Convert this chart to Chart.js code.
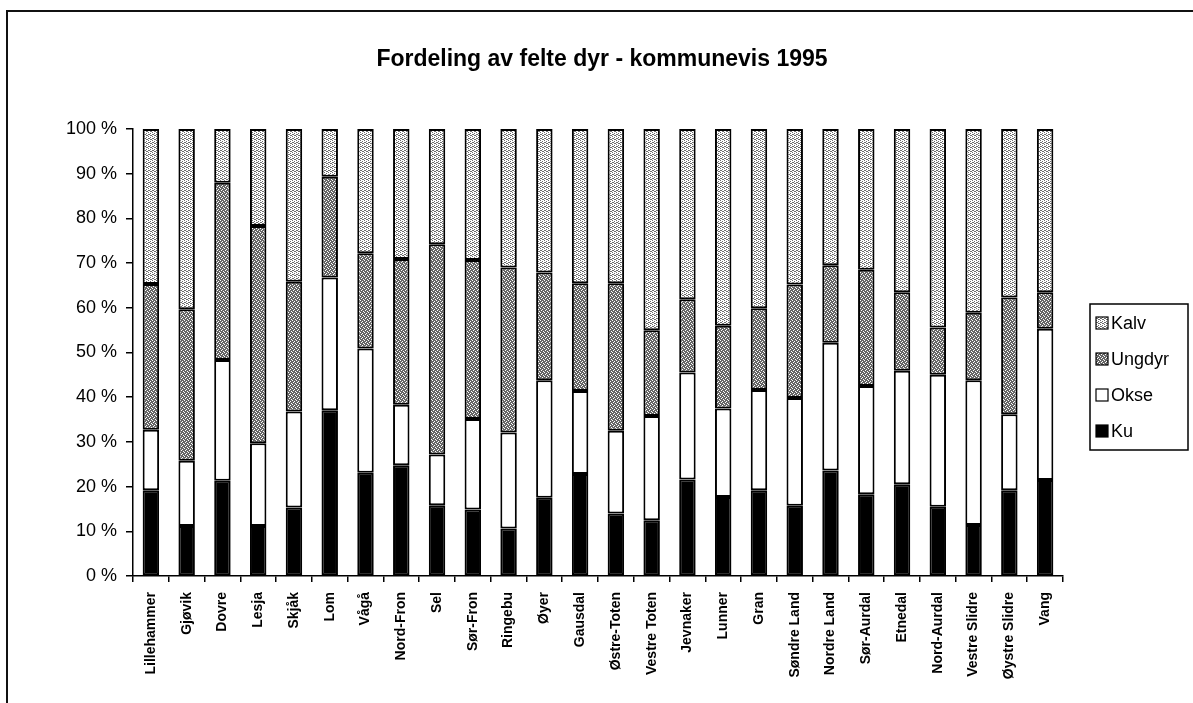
<!DOCTYPE html>
<html>
<head>
<meta charset="utf-8">
<script src="https://cdn.jsdelivr.net/npm/chart.js@4"></script>
<style>
  html, body { margin: 0; padding: 0; background: #fff; }
  #wrap { position: relative; width: 1193px; height: 703px; overflow: hidden; }
  #frame { position: absolute; left: 6px; top: 10px; right: -10px; bottom: -10px;
           border-left: 2px solid #111; border-top: 2px solid #111; }
  #myChart { position: absolute; left: 0; top: 0; }
</style>
</head>
<body>
<div id="wrap">
  <div id="frame"></div>
  <canvas id="myChart" width="1193" height="703"></canvas>
</div>
<script>
'use strict';
//Data
const chartTitle = 'Fordeling av felte dyr - kommunevis 1995';
const kommuner = ['Lillehammer', 'Gjøvik', 'Dovre', 'Lesja', 'Skjåk', 'Lom', 'Vågå', 'Nord-Fron',
  'Sel', 'Sør-Fron', 'Ringebu', 'Øyer', 'Gausdal', 'Østre-Toten', 'Vestre Toten', 'Jevnaker',
  'Lunner', 'Gran', 'Søndre Land', 'Nordre Land', 'Sør-Aurdal', 'Etnedal', 'Nord-Aurdal',
  'Vestre Slidre', 'Øystre Slidre', 'Vang'];
const ku     = [19.2, 11.2, 21.3, 11.2, 15.3, 37.1, 23.1, 24.8, 15.8, 14.9, 10.6, 17.5, 22.8, 14.0, 12.5, 21.6, 17.7, 19.2, 15.7, 23.6, 18.3, 20.5, 15.5, 11.4, 19.2, 21.5];
const okse   = [13.5, 14.6, 27.0, 18.5, 21.5, 29.7, 27.8, 13.5, 11.4, 20.2, 21.5, 26.3, 18.6, 18.5, 23.3, 23.9, 19.8, 22.4, 24.1, 28.6, 24.2, 25.4, 29.5, 32.4, 17.0, 33.8];
const ungdyr = [32.6, 33.9, 39.7, 48.6, 29.0, 22.5, 21.3, 32.6, 47.0, 35.6, 36.9, 24.1, 24.1, 33.0, 19.2, 16.4, 18.5, 18.3, 25.4, 17.3, 26.0, 17.6, 10.6, 15.1, 26.1, 8.2];
const kalv   = [34.7, 40.3, 12.0, 21.7, 34.2, 10.7, 27.8, 29.1, 25.8, 29.3, 31.0, 32.1, 34.5, 34.5, 45.0, 38.1, 44.0, 40.1, 34.8, 30.5, 31.5, 36.5, 44.4, 41.1, 37.7, 36.5];
const yTicks = [0, 10, 20, 30, 40, 50, 60, 70, 80, 90, 100];

//Helper functions
function makePattern(bg, dot, spots){
  const c = document.createElement('canvas');
  c.width = 4; c.height = 4;
  const g = c.getContext('2d');
  g.fillStyle = bg;
  g.fillRect(0, 0, 4, 4);
  g.fillStyle = dot;
  for(let i = 0; i < spots.length; i++){
    g.fillRect(spots[i][0], spots[i][1], 1, 1);
  }
  return g.createPattern(c, 'repeat');
}

const ctx = document.getElementById('myChart').getContext('2d');
const kalvFill = makePattern('#ffffff', '#6e6e6e', [[0,0],[2,1],[1,2],[3,3],[0,2],[2,3]]);
const ungdyrFill = makePattern('#666666', '#ffffff', [[0,0],[2,1],[1,2],[3,3]]);

const FONT = "'Liberation Sans', Arial, sans-serif";

function dataset(label, data, fill){
  return {
    label: label,
    data: data,
    backgroundColor: fill,
    borderColor: '#000',
    borderWidth: 2,
    borderSkipped: false,
    barPercentage: 0.46,
    categoryPercentage: 1.0
  };
}

//title over the whole page width, like the original
const pageTitle = {
  id: 'pageTitle',
  afterDraw(chart){
    const c = chart.ctx;
    c.save();
    c.font = 'bold 23px ' + FONT;
    c.fillStyle = '#000';
    c.textAlign = 'center';
    c.textBaseline = 'middle';
    c.fillText(chartTitle, 602, 60);
    c.restore();
  }
};

//legend drawn by hand, with a box round it
const boxLegend = {
  id: 'boxLegend',
  afterDraw(chart){
    const c = chart.ctx;
    const x = 1090, y = 304, w = 98, h = 146;
    c.save();
    c.fillStyle = '#fff';
    c.fillRect(x, y, w, h);
    c.strokeStyle = '#000';
    c.lineWidth = 1.5;
    c.strokeRect(x, y, w, h);
    c.font = '18px ' + FONT;
    c.textBaseline = 'middle';
    const sets = chart.data.datasets.slice().reverse();
    for(let i = 0; i < sets.length; i++){
      const cy = y + 19 + i * 36;
      c.fillStyle = sets[i].backgroundColor;
      c.fillRect(x + 6, cy - 6, 12, 12);
      c.strokeStyle = '#000';
      c.lineWidth = 1.2;
      c.strokeRect(x + 6, cy - 6, 12, 12);
      c.fillStyle = '#000';
      c.fillText(sets[i].label, x + 21, cy + 1);
    }
    c.restore();
  }
};

const chart = new Chart(ctx, {
  type: 'bar',
  data: {
    labels: kommuner,
    datasets: [
      dataset('Ku', ku, '#000000'),
      dataset('Okse', okse, '#ffffff'),
      dataset('Ungdyr', ungdyr, ungdyrFill),
      dataset('Kalv', kalv, kalvFill)
    ]
  },
  options: {
    responsive: false,
    animation: false,
    layout: { padding: { left: 0, right: 130, top: 129, bottom: 0 } },
    plugins: {
      legend: { display: false },
      tooltip: { enabled: false },
      title: { display: false }
    },
    scales: {
      x: {
        stacked: true,
        grid: { display: true, drawOnChartArea: false, offset: true, tickLength: 6, color: '#000', lineWidth: 1.5 },
        border: { color: '#000', width: 1.5 },
        ticks: {
          autoSkip: false,
          minRotation: 90,
          maxRotation: 90,
          padding: 10,
          color: '#000',
          font: { family: FONT, size: 14, weight: 'bold' }
        },
        afterFit(scale){ scale.height = 127; }
      },
      y: {
        stacked: true,
        min: 0,
        max: 100,
        afterBuildTicks(scale){ scale.ticks = yTicks.map(v => ({ value: v })); },
        grid: { display: true, drawOnChartArea: false, tickLength: 7, color: '#000', lineWidth: 1.5 },
        border: { color: '#000', width: 1.5 },
        ticks: {
          padding: 9,
          color: '#000',
          font: { family: FONT, size: 18 },
          callback: v => v + ' %'
        },
        afterFit(scale){ scale.width = 133; }
      }
    }
  },
  plugins: [pageTitle, boxLegend]
});
</script>
</body>
</html>
